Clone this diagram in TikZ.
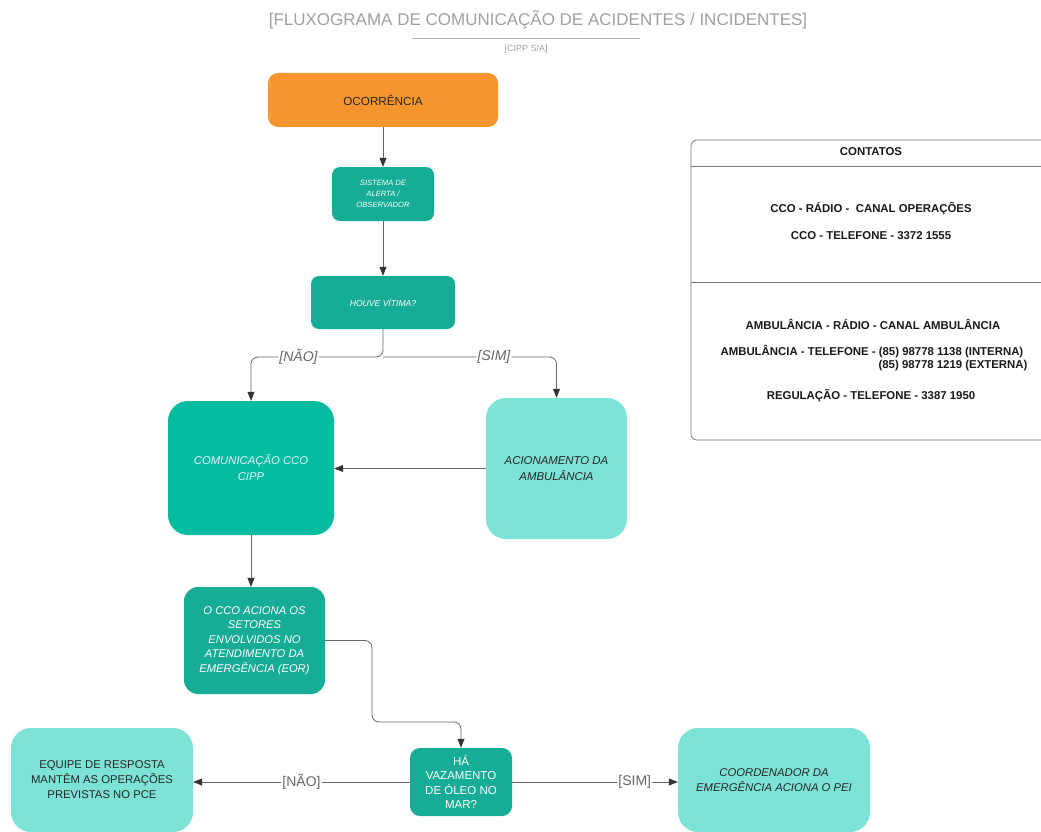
\documentclass[tikz,border=0pt]{standalone}
\usepackage{fontspec}
\setmainfont{Liberation Sans}
\usetikzlibrary{arrows.meta}
\definecolor{orng}{HTML}{F7962F}
\definecolor{tealA}{HTML}{17AC95}
\definecolor{tealB}{HTML}{05BBA0}
\definecolor{tealL}{HTML}{7DE3D6}
\definecolor{lineC}{HTML}{666666}
\definecolor{tipC}{HTML}{333333}
\definecolor{titleC}{HTML}{A0A0A0}
\tikzset{
  box/.style={rectangle, rounded corners=#1, align=center, inner sep=2pt},
  box/.default=9pt,
  dk/.style={fill=tealA, text=white},
  lt/.style={fill=tealL, text=black!85},
  conn/.style={draw=lineC, line width=0.8pt, -{Triangle[length=9pt,width=7pt,fill=tipC,color=tipC]}, rounded corners=7pt},
  lbl/.style={fill=white, inner sep=1pt, text=lineC, font=\fontsize{14}{14}\selectfont},
  ctext/.style={font=\fontsize{11.4}{13}\selectfont\bfseries, text=black!90}
}
\begin{document}
\begin{tikzpicture}[x=1pt,y=-1pt]
\useasboundingbox (0,0) rectangle (1041,832);
\fill[white] (0,0) rectangle (1041,832);
% title
\node[text=titleC, font=\fontsize{17}{18}\selectfont] (title) at (538,20) {[FLUXOGRAMA DE COMUNICAÇÃO DE ACIDENTES / INCIDENTES]};
\draw[titleC!80, line width=0.8pt] (412,38.5) -- (640,38.5);
\node[text=titleC, font=\fontsize{9}{10}\selectfont] (sub) at (526,49) {[CIPP S/A]};
% nodes
\node[box=10pt, fill=orng, text=black!85, font=\fontsize{11.7}{13}\selectfont, minimum width=230pt, minimum height=54pt] (ocor) at (383,100) {OCORRÊNCIA};
\node[box=8pt, dk, minimum width=102pt, minimum height=54pt, font=\fontsize{7.6}{11}\selectfont\itshape] (alerta) at (383,194) {SISTEMA DE\\ALERTA /\\OBSERVADOR};
\node[box=8pt, dk, minimum width=144pt, minimum height=53pt, font=\fontsize{8.6}{10}\selectfont\itshape] (vitima) at (383,302.5) {HOUVE VÍTIMA?};
\node[box=20pt, fill=tealB, text=white!88!cyan, minimum width=166pt, minimum height=134pt, font=\fontsize{11.3}{16}\selectfont\itshape] (comun) at (251,468) {COMUNICAÇÃO CCO\\CIPP};
\node[box=20pt, lt, minimum width=141pt, minimum height=141pt, font=\fontsize{11.4}{16}\selectfont\itshape] (acion) at (556.5,468.5) {ACIONAMENTO DA\\AMBULÂNCIA};
\node[box=14pt, dk, minimum width=141pt, minimum height=107pt, font=\fontsize{11.2}{14.4}\selectfont\itshape] (occo) at (254.5,640.5) {O CCO ACIONA OS\\SETORES\\ENVOLVIDOS NO\\ATENDIMENTO DA\\EMERGÊNCIA (EOR)};
\node[box=10pt, dk, minimum width=102pt, minimum height=68pt, font=\fontsize{11.5}{14.3}\selectfont] (vaz) at (461,782) {HÁ\\VAZAMENTO\\DE ÓLEO NO\\MAR?};
\node[box=20pt, lt, minimum width=182pt, minimum height=104pt, font=\fontsize{11.3}{15}\selectfont] (equipe) at (102,780) {EQUIPE DE RESPOSTA\\MANTÊM AS OPERAÇÕES\\PREVISTAS NO PCE};
\node[box=20pt, lt, minimum width=192pt, minimum height=104pt, font=\fontsize{11.3}{15}\selectfont\itshape] (coord) at (774,780) {COORDENADOR DA\\EMERGÊNCIA ACIONA O PEI};
% connectors
\draw[conn] (ocor.south) -- (alerta.north);
\draw[conn] (alerta.south) -- (vitima.north);
\coordinate (split) at (383,357);
\draw[conn] (vitima.south) -- (split) -| node[lbl, pos=0.32, font=\fontsize{14}{14}\selectfont\itshape] {[NÃO]} (comun.north);
\draw[conn] (split) -| node[lbl, pos=0.32, font=\fontsize{14}{14}\selectfont\itshape] {[SIM]} (acion.north);
\draw[conn] (acion.west) -- (acion.west -| comun.east);
\draw[conn] (comun.south) -- (comun.south |- occo.north);
\coordinate (bend) at (372,722);
\draw[conn] (occo.east) -| (bend) -| (vaz.north);
\draw[conn] (vaz.west) -- node[lbl, pos=0.5] {[NÃO]} (vaz.west -| equipe.east);
\draw[conn] (vaz.east) -- node[lbl, pos=0.74] {[SIM]} (vaz.east -| coord.west);
% contacts
\draw[lineC!90, line width=0.7pt] (1041,140) -- (697,140) arc[start angle=90, end angle=180, radius=6pt] -- (691,434) arc[start angle=180, end angle=270, radius=6pt] -- (1041,440);
\draw[lineC!90, line width=0.7pt] (691,166) -- (1041,166);
\draw[lineC!90, line width=0.7pt] (691,282) -- (1041,282);
\node[ctext] (hdr) at (871,152) {CONTATOS};
\node[ctext] (c1) at (871,209) {CCO - RÁDIO -\ \ CANAL OPERAÇÕES};
\node[ctext] (c2) at (871,236) {CCO - TELEFONE - 3372 1555};
\node[ctext] (c3) at (873,324) {AMBULÂNCIA - RÁDIO - CANAL AMBULÂNCIA};
\node[ctext, anchor=west] (c4) at (717,352) {AMBULÂNCIA - TELEFONE - (85) 98778 1138 (INTERNA)};
\node[ctext, anchor=east] (c5) at (1031,366) {(85) 98778 1219 (EXTERNA)};
\node[ctext] (c6) at (871,396) {REGULAÇÃO - TELEFONE - 3387 1950};
\end{tikzpicture}
\end{document}
